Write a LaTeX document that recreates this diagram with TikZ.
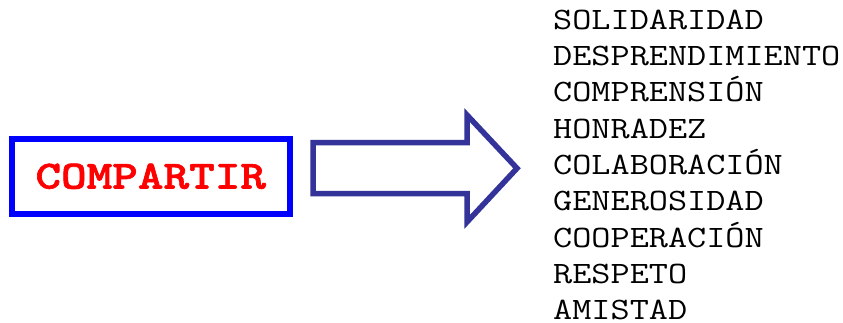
\documentclass[tikz,border=0pt]{standalone}
\usepackage{fontspec}
\newfontfamily\listmono{Latin Modern Mono}[FakeStretch=1.195]
\newfontfamily\boldmono{lmmonolt10-bold}[Extension=.otf,FakeStretch=1.22,FakeBold=1.6]
\definecolor{boxblue}{HTML}{0000FF}
\definecolor{arrowblue}{HTML}{333399}
\definecolor{textred}{HTML}{FF0000}
\begin{document}
\begin{tikzpicture}[x=1pt,y=-1pt,
  mainbox/.style={draw=boxblue,line width=6pt,minimum width=277.5pt,minimum height=74.7pt,inner sep=0pt,
    text=textred,font=\boldmono\fontsize{40}{40}\selectfont},
  blockarrow/.style={draw=arrowblue,line width=5.5pt,line join=miter},
  wordtext/.style={anchor=base west,inner sep=0pt,font=\listmono\fontsize{31.1}{36}\selectfont}]
\useasboundingbox (0,0) rectangle (843,322);
\node[mainbox] (comp) at (150.75,176.3) {COMPARTIR};
\draw[blockarrow] (313,142.5) -- (467,142.5) -- (467,115) -- (517,168.3) -- (467,222) -- (467,193.7) -- (313,193.7) -- cycle;
\foreach \w [count=\i from 0] in {SOLIDARIDAD,DESPRENDIMIENTO,COMPRENSIÓN,HONRADEZ,COLABORACIÓN,GENEROSIDAD,COOPERACIÓN,RESPETO,AMISTAD}{
  \node[wordtext] (w\i) at (553,29.3+36.3*\i) {\w};
}
\end{tikzpicture}
\end{document}
